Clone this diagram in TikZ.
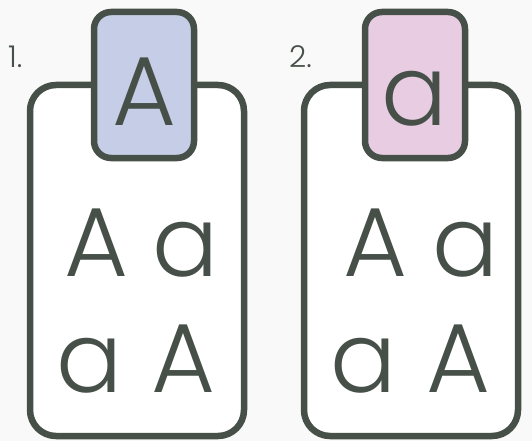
\documentclass[tikz,border=0pt]{standalone}
\usepackage{fontspec}
\setmainfont{Poppins Light}
\begin{document}
\begin{tikzpicture}[x=1pt,y=-1pt,
  frame/.style={draw=ink,line width=6.5pt,rounded corners=26pt,fill=white},
  tab/.style={draw=ink,line width=6.5pt,rounded corners=17pt},
  big/.style={text=ink,font=\fontsize{98}{98}\selectfont,inner sep=0pt,anchor=base},
  num/.style={text=ink,font=\fontsize{30}{30}\selectfont,inner sep=0pt,anchor=base west}]
\definecolor{ink}{HTML}{465049}
\definecolor{blu}{HTML}{C6CEE7}
\definecolor{pnk}{HTML}{E8CDE2}
\fill[white!95!gray] (0,0) rectangle (532,441);
\useasboundingbox (0,0) rectangle (532,441);
% box 1
\draw[frame] (30,85) rectangle (244,436);
\draw[tab,fill=blu] (94,12) rectangle (194,158);
\node[big] (t1) at (144,125) {A};
\node[num] (n1) at (8,68) {1.};
\node[big] (a1) at (96,276) {A};
\node[big] (b1) at (186,276) {a};
\node[big] (c1) at (90,392) {a};
\node[big] (d1) at (183,392) {A};
% box 2
\draw[frame] (304,85) rectangle (518,436);
\draw[tab,fill=pnk] (365,12) rectangle (465,158);
\node[big] (t2) at (415,125) {a};
\node[num] (n2) at (289,68) {2.};
\node[big] (a2) at (375,276) {A};
\node[big] (b2) at (466,276) {a};
\node[big] (c2) at (364,392) {a};
\node[big] (d2) at (458,392) {A};
\end{tikzpicture}
\end{document}
